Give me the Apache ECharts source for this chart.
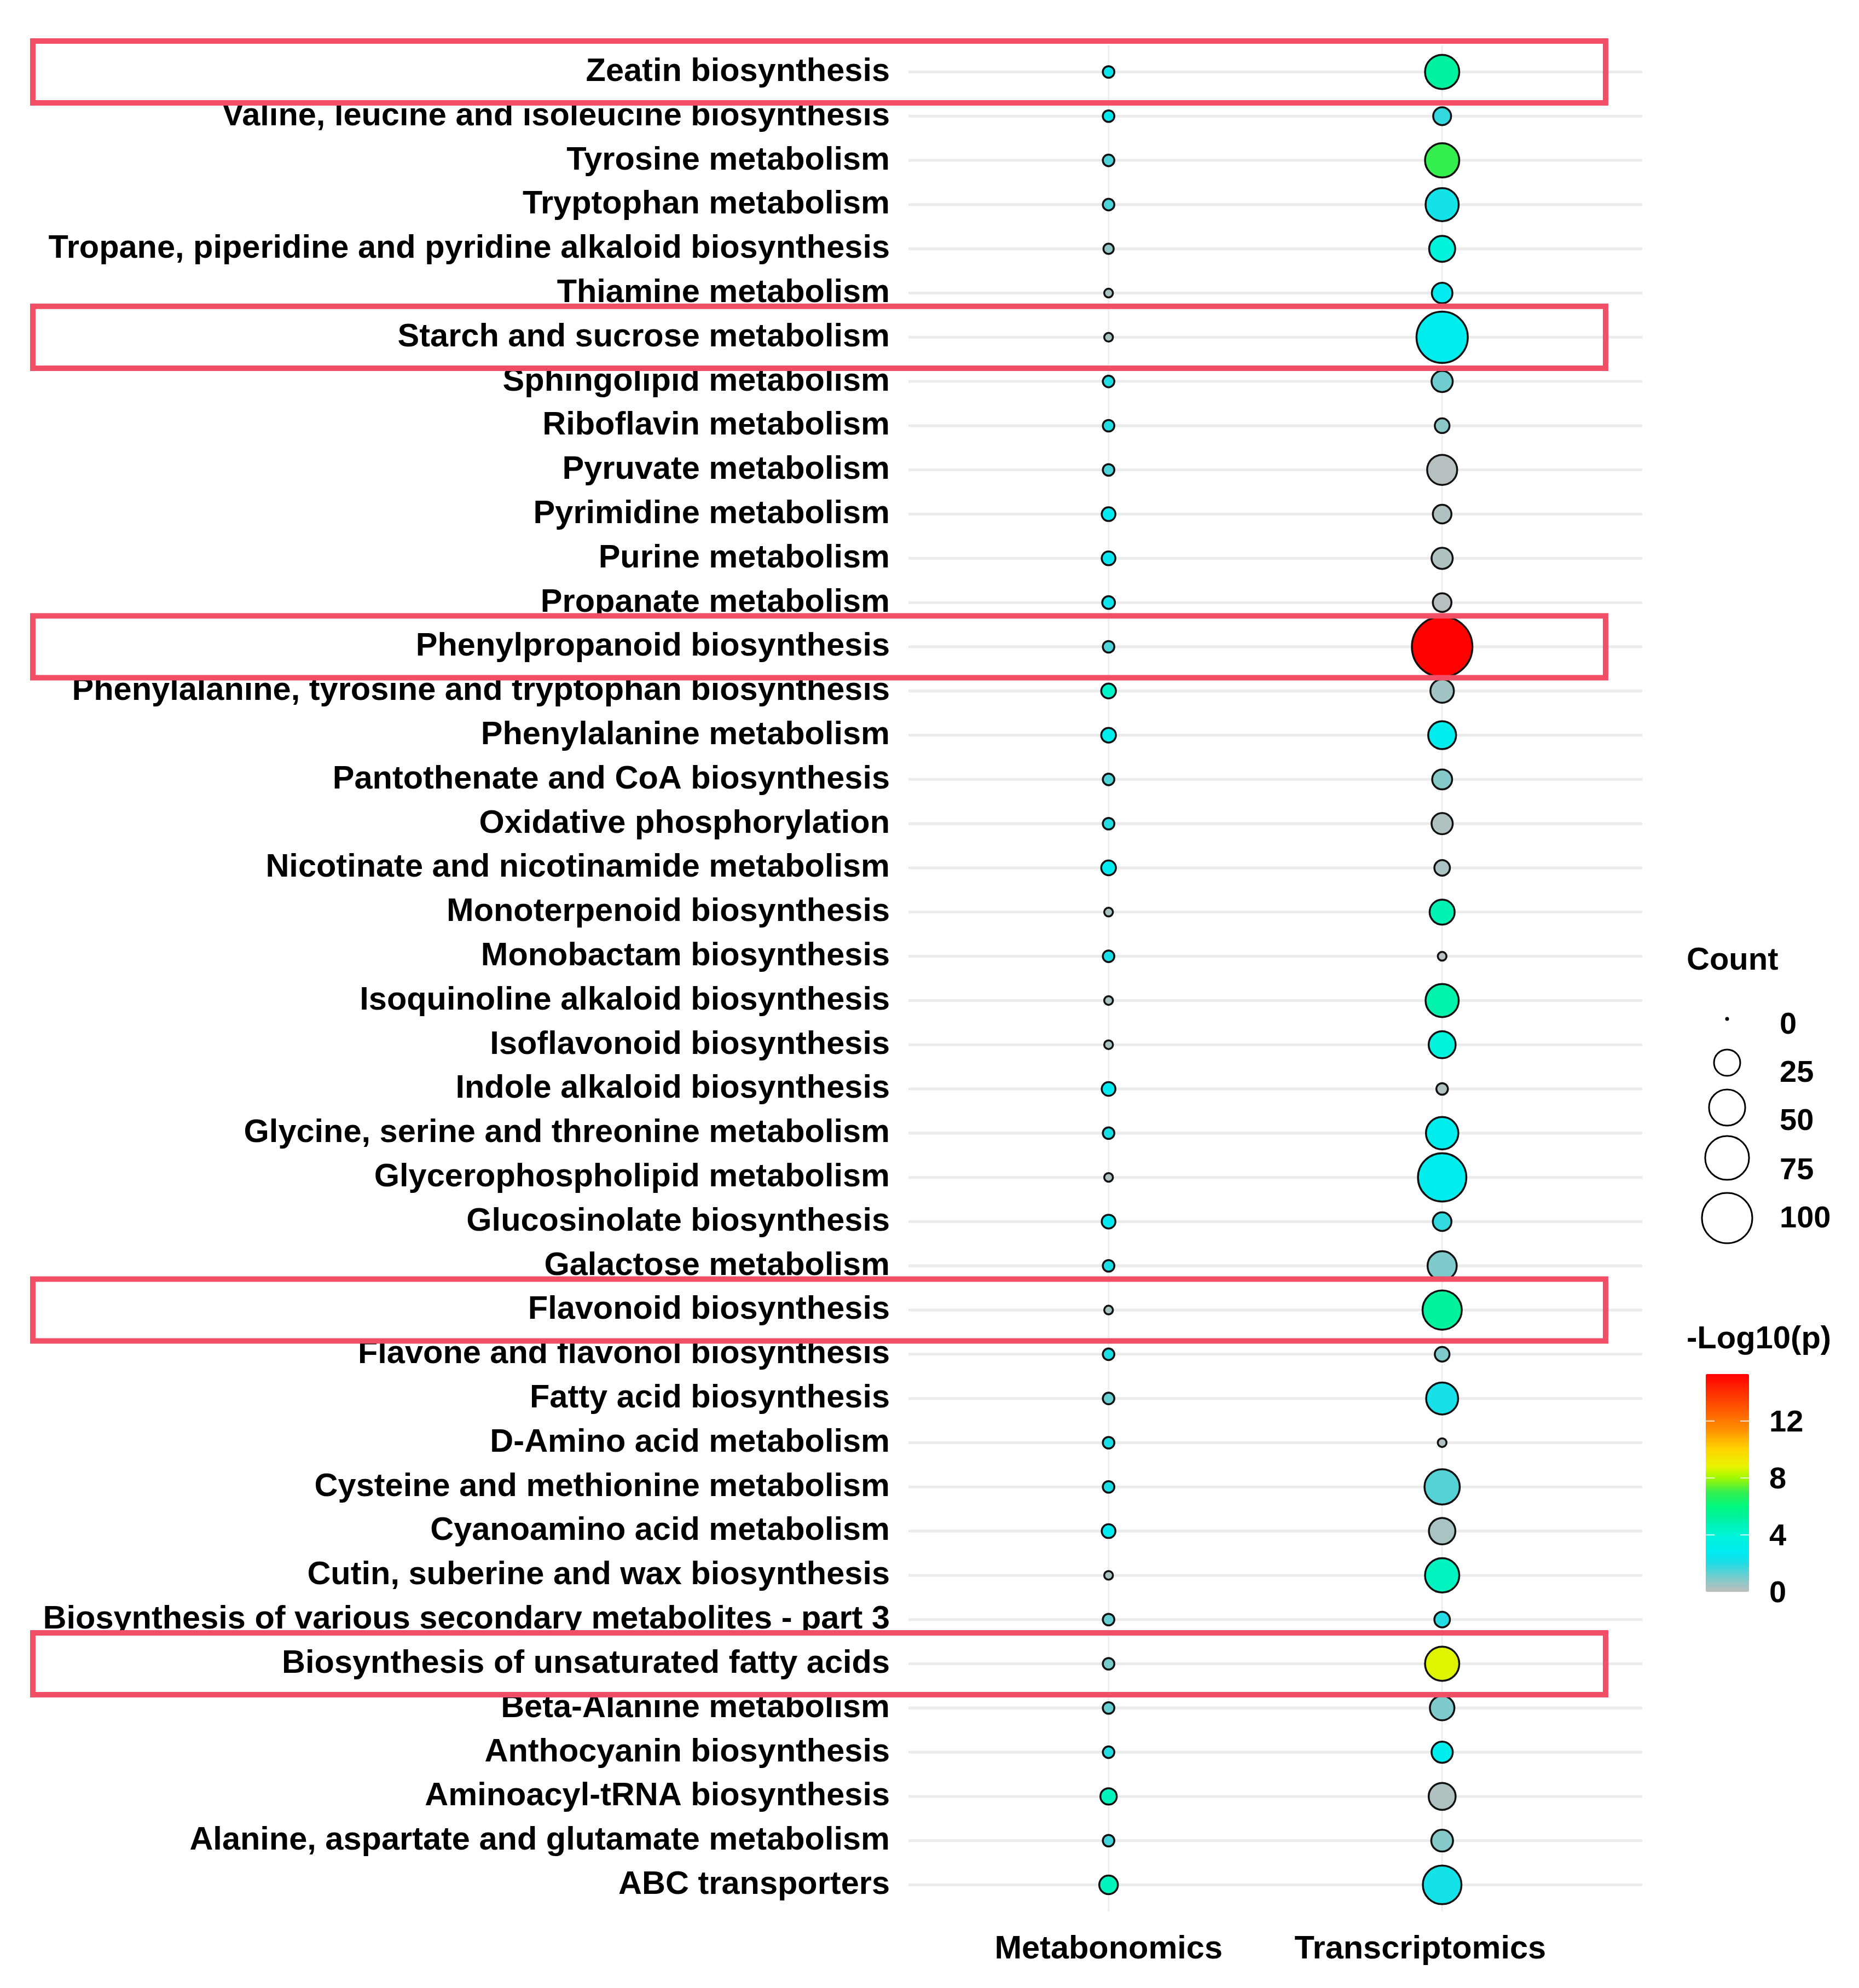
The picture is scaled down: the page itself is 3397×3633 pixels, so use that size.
<!DOCTYPE html>
<html>
<head>
<meta charset="utf-8">
<script src="https://cdn.jsdelivr.net/npm/echarts@6/dist/echarts.min.js"></script>
<style>html,body{margin:0;padding:0;background:#fff}#c{width:3397px;height:3633px}</style>
</head>
<body>
<div id="c"></div>
<script>
// ---------- data ----------
const categories = [
  'Zeatin biosynthesis',
  'Valine, leucine and isoleucine biosynthesis',
  'Tyrosine metabolism',
  'Tryptophan metabolism',
  'Tropane, piperidine and pyridine alkaloid biosynthesis',
  'Thiamine metabolism',
  'Starch and sucrose metabolism',
  'Sphingolipid metabolism',
  'Riboflavin metabolism',
  'Pyruvate metabolism',
  'Pyrimidine metabolism',
  'Purine metabolism',
  'Propanate metabolism',
  'Phenylpropanoid biosynthesis',
  'Phenylalanine, tyrosine and tryptophan biosynthesis',
  'Phenylalanine metabolism',
  'Pantothenate and CoA biosynthesis',
  'Oxidative phosphorylation',
  'Nicotinate and nicotinamide metabolism',
  'Monoterpenoid biosynthesis',
  'Monobactam biosynthesis',
  'Isoquinoline alkaloid biosynthesis',
  'Isoflavonoid biosynthesis',
  'Indole alkaloid biosynthesis',
  'Glycine, serine and threonine metabolism',
  'Glycerophospholipid metabolism',
  'Glucosinolate biosynthesis',
  'Galactose metabolism',
  'Flavonoid biosynthesis',
  'Flavone and flavonol biosynthesis',
  'Fatty acid biosynthesis',
  'D-Amino acid metabolism',
  'Cysteine and methionine metabolism',
  'Cyanoamino acid metabolism',
  'Cutin, suberine and wax biosynthesis',
  'Biosynthesis of various secondary metabolites - part 3',
  'Biosynthesis of unsaturated fatty acids',
  'Beta-Alanine metabolism',
  'Anthocyanin biosynthesis',
  'Aminoacyl-tRNA biosynthesis',
  'Alanine, aspartate and glutamate metabolism',
  'ABC transporters'
];
const omicsLabels = ['Metabonomics', 'Transcriptomics'];

const metabCount = [4,4,4,4,3,2,2,4,4,4,6,6,5,4,7,7,4,4,7,2,4,2,2,6,4,2,6,4,2,4,4,4,4,6,2,4,4,4,4,9,4,12];
const metabLogP  = [2.5,2.7,1.5,1.5,0.6,0.3,0.3,2.0,2.0,1.5,2.8,2.6,2.5,1.5,4.3,3.0,1.5,2.0,2.8,0.3,2.2,0.3,0.3,2.8,2.2,0.2,2.7,2.1,0.3,2.1,1.2,2.2,2.1,2.9,0.3,1.2,1.0,1.2,2.0,4.6,1.6,4.6];
const transCount = [45,11,45,42,25,15,105,16,7,34,12,16,12,148,20,29,14,16,8,23,2,42,27,4,40,93,12,32,60,7,39,2,48,26,45,8,45,22,16,27,17,58];
const transLogP  = [5.2,1.8,7.0,2.3,3.8,2.8,3.0,1.1,0.7,0.1,0.2,0.2,0.1,15.3,0.4,3.0,0.8,0.2,0.3,4.8,0.1,5.0,3.8,0.2,3.0,3.0,1.8,0.9,5.3,0.9,2.2,0.2,1.4,0.3,4.5,2.0,8.7,0.9,3.0,0.2,0.8,2.3];

const highlighted = [
  'Zeatin biosynthesis',
  'Starch and sucrose metabolism',
  'Phenylpropanoid biosynthesis',
  'Flavonoid biosynthesis',
  'Biosynthesis of unsaturated fatty acids'
];
const sizeBreaks = [0, 25, 50, 75, 100];
const colorTicks = [0, 4, 8, 12];
const colorMin = 0, colorMax = 15.3;

// ---------- scales / styles ----------
const FONT = "'Liberation Sans', Arial, Helvetica, sans-serif";
const BORDER = 3.5;
function outerDiameter(c) { return 7 + 8.8 * Math.sqrt(c); }
function symbolSizeOf(c) { return Math.max(outerDiameter(c) - BORDER, 1); }

const colorStops = [
  [0, '#bebebe'], [1.0, '#78cccc'], [2.0, '#20dce4'], [2.8, '#00ebf2'],
  [4.0, '#00f5d8'], [5.2, '#00f2a0'], [6.0, '#00f880'], [7.0, '#33ee50'],
  [8.0, '#a0f800'], [8.8, '#e8f400'], [10.0, '#ffd400'], [11.4, '#ff9000'],
  [13.5, '#ff4000'], [15.3, '#ff0000']
];
function hex2rgb(h) { return [1,3,5].map(i => parseInt(h.substr(i,2),16)); }
function paletteColor(v) {
  for (let i = 0; i < colorStops.length - 1; i++) {
    const [v0, c0] = colorStops[i], [v1, c1] = colorStops[i+1];
    if (v <= v1) {
      const t = (v - v0) / (v1 - v0);
      const a = hex2rgb(c0), b = hex2rgb(c1);
      return 'rgb(' + a.map((x, k) => Math.round(x + (b[k]-x)*t)).join(',') + ')';
    }
  }
  return colorStops[colorStops.length-1][1];
}
const palette = [];
for (let k = 0; k <= 80; k++) palette.push(paletteColor(colorMin + (colorMax - colorMin) * k / 80));

const rows = categories.map((c, i) => i + 1);
const metabData = categories.map((c, i) => [1, i + 1, metabCount[i], metabLogP[i]]);
const transData = categories.map((c, i) => [2, i + 1, transCount[i], transLogP[i]]);
const boxRows = highlighted.map(n => categories.indexOf(n) + 1);

// ---------- legend geometry ----------
const barLeft = 3117, barTop = 2511, barW = 79, barH = 398;
const sizeLegendX = 3156, sizeLegendY = [1862, 1942, 2024, 2116, 2226], sizeLabelY = [1874, 1962, 2050, 2140, 2228];

const graphics = [];
graphics.push({ type: 'text', left: 3082, top: 1760 - 33, style: { text: 'Count', font: 'bold 58px ' + FONT, fill: '#000' } });
sizeBreaks.forEach((b, i) => {
  graphics.push({ type: 'circle', shape: { cx: sizeLegendX, cy: sizeLegendY[i], r: Math.max((outerDiameter(b) - 3) / 2, 1.6) },
    style: { fill: b === 0 ? '#000' : 'none', stroke: '#000', lineWidth: 3 } });
  graphics.push({ type: 'text', x: 3252, y: sizeLabelY[i], style: { text: String(b), font: 'bold 56px ' + FONT, fill: '#000', textVerticalAlign: 'middle', verticalAlign: 'middle' } });
});
graphics.push({ type: 'text', x: 3082, y: 2448, style: { text: '-Log10(p)', font: 'bold 58px ' + FONT, fill: '#000', verticalAlign: 'middle', textVerticalAlign: 'middle' } });
colorTicks.forEach(t => {
  const y = barTop + (1 - (t - colorMin) / (colorMax - colorMin)) * barH;
  graphics.push({ type: 'text', x: 3233, y: y + 4, style: { text: String(t), font: 'bold 56px ' + FONT, fill: '#000', verticalAlign: 'middle', textVerticalAlign: 'middle' } });
  if (t > colorMin) {
    graphics.push({ type: 'line', z: 100, shape: { x1: barLeft, y1: y, x2: barLeft + 16, y2: y }, style: { stroke: 'rgba(255,255,255,0.8)', lineWidth: 2 } });
    graphics.push({ type: 'line', z: 100, shape: { x1: barLeft + barW - 16, y1: y, x2: barLeft + barW, y2: y }, style: { stroke: 'rgba(255,255,255,0.8)', lineWidth: 2 } });
  }
});

const chart = echarts.init(document.getElementById('c'), null, { renderer: 'canvas' });
chart.setOption({
  animation: false,
  backgroundColor: '#ffffff',
  grid: { left: 1660, right: 396, top: 83, bottom: 140, containLabel: false, outerBoundsMode: 'none' },
  xAxis: {
    type: 'value', min: 0.4, max: 2.6,
    axisLine: { show: false }, axisTick: { show: false }, splitLine: { show: false },
    axisLabel: {
      customValues: [1, 2], margin: 40, color: '#000', fontSize: 59.5, fontWeight: 'bold', fontFamily: FONT,
      formatter: v => { const i = Math.round(v) - 1; return i === 1 ? '{t|' + omicsLabels[i] + '}' : omicsLabels[i]; },
      rich: { t: { fontSize: 59.5, fontWeight: 'bold', fontFamily: FONT, color: '#000', padding: [0, 80, 0, 0] } }
    }
  },
  yAxis: {
    type: 'value', min: 0.4, max: 42.6, inverse: true,
    axisLine: { show: false }, axisTick: { show: false }, splitLine: { show: false },
    axisLabel: {
      customValues: rows, margin: 34, color: '#000', fontSize: 59.5, fontWeight: 'bold', fontFamily: FONT,
      formatter: v => categories[Math.round(v) - 1]
    }
  },
  visualMap: {
    type: 'continuous', min: colorMin, max: colorMax, dimension: 3, seriesIndex: [2, 3],
    calculable: false, show: true, left: barLeft, top: barTop, itemWidth: barW, itemHeight: barH,
    padding: 0, text: null, showLabel: false, inRange: { color: palette }, hoverLink: false
  },
  series: [
    {
      type: 'custom', z: 1, silent: true, clip: false,
      data: rows,
      renderItem: (params, api) => {
        const r = api.value(0);
        const a = api.coord([0.4, r]), b = api.coord([2.6, r]);
        return { type: 'line', shape: { x1: a[0], y1: a[1], x2: b[0], y2: b[1] }, style: { stroke: '#ebebeb', lineWidth: 5 } };
      }
    },
    {
      type: 'custom', z: 1, silent: true, clip: false,
      data: [1, 2],
      renderItem: (params, api) => {
        const x = api.value(0);
        const a = api.coord([x, 0.4]), b = api.coord([x, 42.6]);
        return { type: 'line', shape: { x1: a[0], y1: a[1], x2: b[0], y2: b[1] }, style: { stroke: '#eeeeee', lineWidth: 3 } };
      }
    },
    {
      name: 'Metabonomics', type: 'scatter', z: 3, data: metabData,
      symbolSize: v => symbolSizeOf(v[2]),
      itemStyle: { borderColor: '#111', borderWidth: BORDER, opacity: 1 }
    },
    {
      name: 'Transcriptomics', type: 'scatter', z: 3, data: transData,
      symbolSize: v => symbolSizeOf(v[2]),
      itemStyle: { borderColor: '#111', borderWidth: BORDER, opacity: 1 }
    },
    {
      type: 'custom', z: 10, silent: true, clip: false,
      data: boxRows,
      renderItem: (params, api) => {
        const r = api.value(0);
        const p1 = api.coord([-2.225, r - 0.7]), p2 = api.coord([2.49, r + 0.7]);
        return { type: 'rect', shape: { x: Math.min(p1[0], p2[0]), y: Math.min(p1[1], p2[1]), width: Math.abs(p2[0]-p1[0]), height: Math.abs(p2[1]-p1[1]) },
          style: { fill: 'none', stroke: '#f24f66', lineWidth: 10 } };
      }
    }
  ],
  graphic: graphics
});
</script>
</body>
</html>
